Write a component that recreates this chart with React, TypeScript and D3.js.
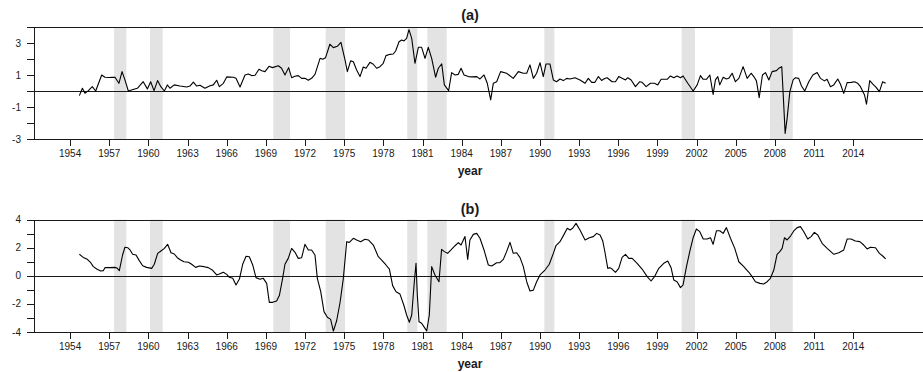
import React from "react";
import * as d3 from "d3";

// Recession periods (decimal years) shaded in both panels
const recessionStart = [1957.37, 1960.12, 1969.57, 1973.58, 1979.83, 1981.37, 1990.33, 2000.85, 2007.62];
const recessionEnd = [1958.31, 1961.09, 1970.85, 1975.06, 1980.6, 1982.85, 1991.1, 2001.87, 2009.36];

// Year ticks on the horizontal axis
const yearTicks = [1954, 1957, 1960, 1963, 1966, 1969, 1972, 1975, 1978, 1981, 1984, 1987, 1990, 1993, 1996, 1999, 2002, 2005, 2008, 2011, 2014];

// Panel (a) series
const timeA = [
  1954.71, 1954.94, 1955.14, 1955.4, 1955.7, 1955.96, 1956.42, 1956.67, 1957.0, 1957.2, 1957.44, 1957.74, 1957.98,
  1958.2, 1958.46, 1958.7, 1959.15, 1959.6, 1959.92, 1960.17, 1960.43, 1960.7, 1960.95, 1961.22, 1961.45, 1961.65,
  1961.98, 1962.42, 1962.93, 1963.18, 1963.44, 1963.7, 1963.95, 1964.33, 1964.72, 1964.97, 1965.23, 1965.43, 1965.74,
  1966.0, 1966.51, 1966.71, 1967.02, 1967.4, 1967.65, 1967.91, 1968.17, 1968.47, 1968.68, 1968.93, 1969.24, 1969.5,
  1969.95, 1970.2, 1970.46, 1970.74, 1970.97, 1971.22, 1971.48, 1971.74, 1971.99, 1972.25, 1972.5, 1972.76, 1973.15,
  1973.35, 1973.57, 1973.9, 1974.17, 1974.47, 1974.75, 1975.06, 1975.24, 1975.49, 1975.7, 1975.95, 1976.21, 1976.46,
  1976.67, 1976.97, 1977.23, 1977.48, 1977.74, 1977.99, 1978.2, 1978.51, 1978.76, 1978.94, 1979.2, 1979.4, 1979.58,
  1979.78, 1979.96, 1980.17, 1980.42, 1980.68, 1980.93, 1981.19, 1981.44, 1981.7, 1982.0, 1982.21, 1982.47, 1982.67,
  1983.0, 1983.23, 1983.49, 1983.74, 1983.95, 1984.18, 1984.51, 1984.8, 1985.15, 1985.4, 1985.71, 1985.96, 1986.22,
  1986.42, 1986.68, 1986.98, 1987.44, 1987.95, 1988.34, 1988.72, 1988.98, 1989.23, 1989.49, 1989.74, 1990.0, 1990.25,
  1990.46, 1990.76, 1991.02, 1991.27, 1991.53, 1991.79, 1992.04, 1992.3, 1992.68, 1993.06, 1993.45, 1993.7, 1993.96,
  1994.21, 1994.47, 1994.72, 1994.95, 1995.14, 1995.52, 1995.78, 1996.03, 1996.29, 1996.55, 1996.72, 1996.98, 1997.31,
  1997.64, 1997.82, 1998.13, 1998.46, 1998.77, 1999.02, 1999.28, 1999.74, 1999.99, 2000.25, 2000.5, 2000.76, 2000.96,
  2001.32, 2001.73, 2002.04, 2002.29, 2002.5, 2002.75, 2003.01, 2003.26, 2003.44, 2003.62, 2003.77, 2004.03, 2004.28,
  2004.46, 2004.72, 2004.97, 2005.23, 2005.56, 2005.87, 2006.17, 2006.38, 2006.58, 2006.79, 2007.04, 2007.27, 2007.53,
  2007.78, 2008.11, 2008.29, 2008.52, 2008.62, 2008.78, 2008.93, 2009.14, 2009.39, 2009.57, 2009.82, 2010.03, 2010.28,
  2010.59, 2010.9, 2011.23, 2011.48, 2011.79, 2011.99, 2012.25, 2012.5, 2012.81, 2013.02, 2013.27, 2013.53, 2013.83,
  2014.09, 2014.34, 2014.55, 2014.86, 2015.01, 2015.26, 2015.5, 2015.75, 2016.0, 2016.25, 2016.48,
];
const seriesA = [
  -0.27, 0.19, -0.12, 0.04, 0.29, 0.02, 1.02, 0.88, 0.86, 0.87, 0.88, 0.5, 1.23,
  0.71, 0.02, 0.08, 0.19, 0.6, 0.15, 0.6, 0.04, 0.67, 0.29, 0.02, 0.4, 0.19,
  0.4, 0.33, 0.27, 0.33, 0.58, 0.33, 0.38, 0.19, 0.35, 0.4, 0.69, 0.29, 0.5,
  0.9, 0.88, 0.81, 0.27, 1.02, 1.08, 0.98, 1.0, 1.38, 1.29, 1.23, 1.56, 1.48,
  1.6, 1.44, 1.02, 1.48, 0.85, 0.94, 0.98, 0.81, 0.81, 0.69, 0.81, 1.06, 2.06,
  2.0, 2.1, 2.94, 2.73, 2.81, 3.06, 1.96, 1.23, 1.9, 1.85, 1.33, 0.92, 1.52,
  1.44, 1.81, 1.69, 1.44, 1.54, 1.75, 2.23, 2.31, 2.33, 2.52, 3.1, 3.21, 3.15,
  3.31, 3.85, 3.31, 1.75, 2.75, 2.75, 2.06, 2.75, 2.06, 0.88, 1.44, 1.71, 0.4,
  0.04, 1.17, 1.02, 1.06, 1.44, 1.02, 0.92, 0.9, 0.92, 0.77, 1.02, 0.5, -0.54,
  0.5, 0.6, 1.23, 1.13, 0.81, 1.23, 1.13, 1.13, 1.65, 0.81, 1.13, 1.79, 0.92,
  1.71, 1.71, 0.71, 0.6, 0.77, 0.67, 0.81, 0.77, 0.85, 0.71, 0.5, 0.81, 0.56,
  0.56, 0.92, 0.68, 0.8, 0.85, 0.6, 0.6, 0.92, 0.81, 0.71, 0.85, 0.71, 0.29,
  0.6, 0.56, 0.29, 0.5, 0.5, 0.4, 0.75, 0.75, 0.96, 0.85, 0.96, 0.85, 0.96,
  0.5, 0.02, 0.4, 0.98, 0.75, 0.75, 1.02, -0.19, 0.71, 0.92, 0.4, 0.88, 0.77,
  0.81, 1.13, 0.6, 0.81, 1.54, 0.81, 1.13, 0.92, 0.65, -0.4, 1.02, 1.17, 0.71,
  1.23, 1.29, 1.44, 1.54, -0.02, -2.63, -1.69, -0.02, 0.71, 0.85, 0.81, 0.33, 0.02,
  0.6, 1.02, 1.17, 0.81, 0.65, 0.75, 0.29, 0.4, 0.77, 0.44, -0.13, 0.54, 0.56,
  0.6, 0.5, 0.29, -0.23, -0.81, 0.67, 0.45, 0.25, -0.02, 0.6, 0.5,
];

// Panel (b) series
const timeB = [
  1954.71, 1955.01, 1955.32, 1955.58, 1955.78, 1956.04, 1956.34, 1956.55, 1956.67, 1957.06, 1957.44, 1957.62, 1957.77,
  1958.02, 1958.2, 1958.41, 1958.59, 1958.79, 1959.05, 1959.3, 1959.56, 1959.86, 1960.25, 1960.45, 1960.71, 1960.96,
  1961.22, 1961.47, 1961.73, 1961.98, 1962.21, 1962.47, 1962.72, 1963.06, 1963.31, 1963.62, 1963.9, 1964.26, 1964.59,
  1964.92, 1965.23, 1965.43, 1965.74, 1966.0, 1966.2, 1966.46, 1966.71, 1966.97, 1967.22, 1967.48, 1967.73, 1967.99,
  1968.24, 1968.55, 1968.8, 1969.06, 1969.26, 1969.52, 1969.82, 1970.03, 1970.28, 1970.46, 1970.71, 1970.97, 1971.23,
  1971.48, 1971.74, 1971.99, 1972.25, 1972.5, 1972.76, 1972.94, 1973.2, 1973.45, 1973.71, 1973.96, 1974.17, 1974.42,
  1974.68, 1974.93, 1975.19, 1975.39, 1975.7, 1975.95, 1976.26, 1976.59, 1976.85, 1977.23, 1977.61, 1977.87, 1978.2,
  1978.46, 1978.71, 1978.97, 1979.27, 1979.58, 1979.78, 1979.99, 1980.17, 1980.37, 1980.5, 1980.6, 1980.73, 1980.93,
  1981.19, 1981.32, 1981.52, 1981.7, 1981.95, 1982.26, 1982.46, 1982.67, 1982.92, 1983.18, 1983.49, 1983.74, 1983.95,
  1984.25, 1984.46, 1984.63, 1984.89, 1985.15, 1985.4, 1985.71, 1986.04, 1986.3, 1986.68, 1986.93, 1987.19, 1987.44,
  1987.7, 1987.95, 1988.21, 1988.47, 1988.72, 1988.98, 1989.23, 1989.49, 1989.74, 1990.0, 1990.38, 1990.71, 1991.02,
  1991.22, 1991.53, 1991.79, 1992.09, 1992.3, 1992.5, 1992.76, 1993.06, 1993.45, 1993.78, 1994.08, 1994.34, 1994.6,
  1994.8, 1994.95, 1995.19, 1995.35, 1995.52, 1995.78, 1996.03, 1996.29, 1996.55, 1996.8, 1997.06, 1997.44, 1997.82,
  1998.21, 1998.51, 1998.77, 1999.1, 1999.48, 1999.79, 2000.04, 2000.25, 2000.5, 2000.76, 2000.96, 2001.22, 2001.47,
  2001.73, 2001.98, 2002.24, 2002.5, 2002.8, 2003.06, 2003.26, 2003.52, 2003.77, 2004.03, 2004.28, 2004.59, 2004.92,
  2005.23, 2005.61, 2006.0, 2006.25, 2006.5, 2006.84, 2007.14, 2007.4, 2007.65, 2007.91, 2008.16, 2008.37, 2008.55,
  2008.73, 2008.93, 2009.19, 2009.44, 2009.7, 2009.95, 2010.21, 2010.51, 2010.77, 2011.02, 2011.28, 2011.61, 2012.0,
  2012.51, 2012.89, 2013.27, 2013.53, 2013.83, 2014.16, 2014.5, 2014.8, 2015.06, 2015.31, 2015.7, 2016.0, 2016.25,
  2016.48,
];
const seriesB = [
  1.53, 1.31, 1.17, 0.93, 0.65, 0.48, 0.34, 0.37, 0.58, 0.58, 0.6, 0.53, 0.37,
  1.48, 2.03, 2.0, 1.84, 1.53, 1.48, 1.08, 0.72, 0.6, 0.53, 0.82, 1.6, 1.77,
  1.95, 2.24, 1.64, 1.55, 1.29, 1.12, 1.0, 0.96, 0.82, 0.6, 0.7, 0.65, 0.58,
  0.39, 0.06, 0.13, 0.25, 0.1, -0.11, -0.18, -0.65, -0.23, 0.82, 1.39, 1.36, 0.77,
  -0.13, -0.25, -0.18, -0.54, -1.89, -1.89, -1.79, -1.41, -0.18, 0.82, 1.24, 1.95, 1.67,
  1.24, 1.29, 2.24, 1.84, 1.84, 1.48, -0.18, -1.13, -2.55, -2.95, -3.1, -3.93, -3.2,
  -1.9, -0.2, 2.43, 2.38, 2.67, 2.55, 2.43, 2.6, 2.55, 2.19, 1.36, 1.12, 0.77,
  0.48, -0.7, -1.13, -1.3, -2.13, -2.79, -3.31, -2.79, -0.42, 0.89, -1.37, -3.27, -3.38,
  -3.74, -3.93, -2.79, 0.65, 0.06, -0.42, 1.88, 1.72, 1.6, 1.84, 2.14, 2.36, 2.19,
  2.79, 1.17, 2.55, 2.95, 3.02, 2.67, 1.84, 0.77, 0.7, 0.93, 0.93, 1.17, 1.72,
  2.38, 1.6, 1.64, 1.29, 0.65, -0.42, -1.08, -1.02, -0.42, 0.06, 0.41, 0.82, 1.6,
  2.14, 2.43, 2.86, 3.38, 3.26, 3.38, 3.73, 3.26, 2.55, 2.71, 2.79, 3.02, 2.9,
  2.5, 1.8, 0.53, 0.58, 0.48, 0.25, 0.53, 1.31, 1.53, 1.24, 1.24, 0.89, 0.48,
  -0.06, -0.37, -0.06, 0.53, 0.89, 1.05, 0.58, -0.3, -0.42, -0.84, -0.65, 0.65, 1.72,
  2.71, 3.33, 3.14, 2.62, 2.62, 2.71, 2.24, 3.21, 3.21, 3.02, 3.43, 2.67, 1.95,
  1.0, 0.65, 0.25, -0.06, -0.42, -0.54, -0.58, -0.42, -0.18, 0.41, 1.53, 1.72, 1.95,
  2.71, 2.55, 2.83, 3.19, 3.43, 3.5, 3.14, 2.62, 2.79, 3.09, 2.9, 2.31, 1.95,
  1.53, 1.64, 1.84, 2.62, 2.62, 2.48, 2.43, 2.19, 1.91, 2.03, 2.0, 1.6, 1.41,
  1.2,
];

const WIDTH = 923;
const HEIGHT = 372;
const LEFT = 34;
const FONT = "'Liberation Sans', Arial, Helvetica, sans-serif";
const INK = "#1a1a1a";

const x = d3.scaleLinear().domain([1951.234, 2019.34]).range([LEFT, WIDTH]);

type PanelProps = {
  title: string;
  time: number[];
  values: number[];
  yDomain: [number, number];
  yRange: [number, number];
  labeled: number[];
  titleY: number;
  tickLabelY: number;
  xLabelY: number;
};

function Panel({ title, time, values, yDomain, yRange, labeled, titleY, tickLabelY, xLabelY }: PanelProps) {
  const y = d3.scaleLinear().domain(yDomain).range(yRange);
  const top = y(yDomain[1]);
  const bottom = y(yDomain[0]);
  const crisp = (v: number) => Math.round(v) + 0.5;
  const pts: [number, number][] = time.map((t, i) => [t, values[i]]);
  const line = d3
    .line<[number, number]>()
    .x((d) => x(d[0]))
    .y((d) => y(d[1]));
  const yTicks = d3.range(yDomain[0], yDomain[1] + 1);
  const mid = 470;

  return (
    <g>
      {recessionStart.map((s, i) => (
        <rect
          key={s}
          x={x(s)}
          y={top}
          width={x(recessionEnd[i]) - x(s)}
          height={bottom - top}
          fill="#e3e3e3"
        />
      ))}
      {/* frame: top edge, left axis, bottom axis */}
      <line x1={LEFT} x2={WIDTH} y1={crisp(top)} y2={crisp(top)} stroke={INK} strokeWidth={1} />
      <line x1={LEFT} x2={WIDTH} y1={crisp(bottom)} y2={crisp(bottom)} stroke={INK} strokeWidth={1} />
      <line x1={crisp(LEFT)} x2={crisp(LEFT)} y1={crisp(top)} y2={crisp(bottom)} stroke={INK} strokeWidth={1} />
      {/* zero reference line */}
      <line x1={LEFT} x2={WIDTH} y1={crisp(y(0))} y2={crisp(y(0))} stroke={INK} strokeWidth={1} />
      {yTicks.map((t) => (
        <g key={t}>
          <line x1={LEFT - 7} x2={LEFT} y1={crisp(y(t))} y2={crisp(y(t))} stroke={INK} strokeWidth={1} />
          {labeled.includes(t) && (
            <text
              x={21}
              y={y(t)}
              dy="0.35em"
              textAnchor="end"
              fontSize={10}
              fontFamily={FONT}
              fill={INK}
            >
              {t}
            </text>
          )}
        </g>
      ))}
      {yearTicks.map((yr) => (
        <g key={yr}>
          <line x1={crisp(x(yr))} x2={crisp(x(yr))} y1={crisp(bottom)} y2={crisp(bottom) + 6.5} stroke={INK} strokeWidth={1} />
          <text x={x(yr)} y={tickLabelY} textAnchor="middle" fontSize={10} fontFamily={FONT} fill={INK}>
            {yr}
          </text>
        </g>
      ))}
      <path d={line(pts) ?? ""} fill="none" stroke="#000" strokeWidth={1.1} strokeLinejoin="round" />
      <text x={mid} y={titleY} textAnchor="middle" fontSize={14.5} fontWeight="bold" fontFamily={FONT} fill={INK}>
        {title}
      </text>
      <text x={mid} y={xLabelY} textAnchor="middle" fontSize={12} fontWeight="bold" fontFamily={FONT} fill={INK}>
        year
      </text>
    </g>
  );
}

export default function App() {
  return (
    <svg
      width={WIDTH}
      height={HEIGHT}
      viewBox={`0 0 ${WIDTH} ${HEIGHT}`}
      style={{ position: "absolute", left: 0, top: 0, background: "#fff" }}
    >
      <rect width={WIDTH} height={HEIGHT} fill="#fff" />
      <Panel
        title="(a)"
        time={timeA}
        values={seriesA}
        yDomain={[-3, 4]}
        yRange={[139.3, 27.3]}
        labeled={[3, 1, -1, -3]}
        titleY={20}
        tickLabelY={157}
        xLabelY={174.5}
      />
      <Panel
        title="(b)"
        time={timeB}
        values={seriesB}
        yDomain={[-4, 4]}
        yRange={[332, 219.6]}
        labeled={[4, 2, 0, -2, -4]}
        titleY={213.5}
        tickLabelY={350}
        xLabelY={367.5}
      />
    </svg>
  );
}
